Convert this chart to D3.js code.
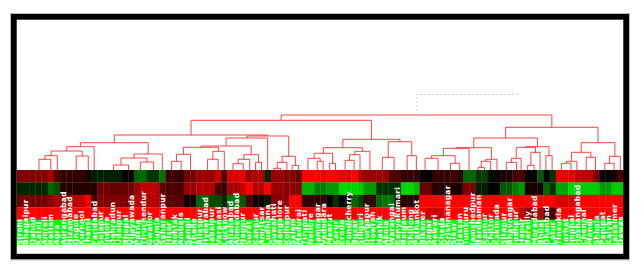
<!DOCTYPE html>
<html><head><meta charset="utf-8">
<script src="https://cdn.jsdelivr.net/npm/d3@7"></script>
<style>html,body{margin:0;padding:0;background:#fff}svg{display:block}</style>
</head><body><div id="chart"></div>
<script>
const labels=["Sirohi","Bhagalpur","Dahod","Katni","Amreli","Ratlam","Agra","Aurangabad","Nizamabad","Ongole","Kurnool","Jhansi","Faridabad","Solapur","Indore","Dehradun","Udaipur","Bhopal","Vijayawada","Patna","Tiruchendur","Gwalior","Gumla","Saharanpur","Hisar","Rohtak","Ambala","Sangli","Thane","Bilaspur","Hyderabad","Jabalpur","Varanasi","Lucknow","Allahabad","Ahmedabad","Nagpur","Surat","Kanpur","Amritsar","Ludhiana","Guwahati","Bangalore","Kolhapur","Salem","Madurai","Tirupati","Nellore","Jamnagar","Vadodara","Meerut","Karur","Erode","Pondicherry","Buxar","Siliguri","Durgapur","Howrah","Nashik","Akola","Warangal","Kanyakumari","Belgaum","Shillong","Pathankot","Bikaner","Sagar","Rewari","Kheda","Krishnanagar","Sikar","Hassan","Tumkuru","Jamshedpur","Bardhaman","Kannur","Chittor","Kakinada","Sitapur","Bhavnagar","Jodhpur","Hapur","Bareilly","Moradabad","Bhilai","Dhanbad","Latur","Tinsukia","Jorhat","Imphal","Hoshangabad","Chennai","Mandi","Shimla","Panipat","Kalyan","Jaisalmer","Dewas"];

const row1=[.5,.5,.5,.5,.5,.65,.3,.2,.2,.2,.2,.12,-.12,-.12,-.12,-.12,-.12,0,0,-.4,-.4,-.2,-.2,-.45,.25,.25,.18,.45,.45,.6,.6,.6,.8,.3,.85,.85,.9,.6,.7,.65,-.15,.6,.6,.5,.5,.4,1,1,1,.9,1,1,.9,.9,1,.7,.6,.6,.6,.6,.3,.3,.2,.2,.2,0,0,.2,.2,.2,.25,.18,-.4,-.4,-.2,-.25,-.05,-.05,.12,.12,.25,.3,0,.03,-.35,0,-.2,.9,.9,.9,.75,.75,.75,.5,0,0,.08,.3];
const row2=[-.15,-.15,-.15,-.15,-.15,-.4,-.3,.15,.15,.15,.15,.15,.1,.45,.45,.4,.4,.4,.45,.6,.75,.75,.75,.35,.3,.3,.3,.6,.6,.7,.7,.7,.3,.2,.65,.65,.8,1,.7,.7,1,.6,.6,.55,.55,.55,-.7,-.7,-.5,-.5,-.6,-.6,-.85,-.85,-.85,-.8,-.6,-.6,-.2,-.2,-.18,-.18,-.85,-.85,-.75,.4,.4,.15,.15,.15,.1,.1,.5,.5,-.12,-.12,-.02,-.02,-.35,-.35,-.5,-.6,.08,.08,.08,-.4,-.2,-.65,-.65,-.85,-.85,-.8,-.8,-.8,-.6,-.6,-.8,-.8];
const row3=[.45,.45,.45,.45,.45,.55,.65,.55,.55,.75,.75,1,.25,.5,.5,.5,.5,.5,.5,.7,.7,.7,.7,.55,.35,.35,.35,.05,.05,-.4,-.4,-.3,-.3,-.15,-.45,-.45,-.35,.3,.05,.05,-.1,.55,.55,.55,1,1,.2,.2,.2,.2,0,-.2,.02,.02,-.4,-.25,.2,.2,-.4,-.45,-.45,.15,.15,.15,.15,1,1,1,1,1,1,1,1,1,1,1,1,1,1,1,1,1,1,1,1,1,1,.85,.85,.85,.85,1,1,1,1,1,1,1];
const row4=[1,1,1,1,1,1,1,1,1,1,1,1,1,1,1,1,1,1,1,1,1,1,1,1,1,1,1,1,1,1,1,1,1,1,1,1,1,1,1,.9,.9,1,1,1,1,1,.95,.95,.95,.95,.95,.95,.95,.95,.95,.95,1,1,1,1,1,1,1,1,1,1,.8,.8,.8,1,1,1,1,1,1,1,1,1,1,1,1,.75,.55,.55,.7,.25,.25,1,1,1,1,1,1,1,1,1,1,1];
const row5=labels.map(()=>-1);
const rows=[row1,row2,row3,row4,row5];
const rowSpans=[1,1,1,1,2];

// merge tree: [distance, left, right]; a bare number is a leaf position in column units
const tree=[55,
 [49.7,
  [35,
   [27.3,
    [23.3,[19,[14.3,[10.7,3.6,5.5],6.55],[14,9.6,11.55]],12.5],
    [16,[12,[5,15.6,18.05],[8,19.95,22.1]],23.5]],
   [34,
    [32,
     [24,
      [22.7,[15.7,[8.7,25,26.55],28.05],[18.7,[10.7,30.8,32.5],33.5]],
      [15.3,[10.7,[6.3,34.9,36.55],37.6],[7.7,38.55,39.5]]],
     40.5],
    [13.7,[7.7,[1.7,41.5,42.6],43.6],[4.7,44.45,45.5]]]],
  [30.7,
   [22.3,
    [16.7,[11.7,47,[8.7,48.5,49.45]],[6.7,50.5,51.45]],
    [18.7,[15.3,[9.7,53,54.45],55.4],57]],
   [28.3,[12.7,59,60.9],[14.3,63,64.5]]]],
 [42.7,
  [32,
   [22.3,
    [21.7,[14.3,[11.7,65.9,68],[6.7,70,71.5]],73],
    [10.7,[8.7,[2.7,74.45,75.5],76.45],77.5]],
   [23.3,
    [22.7,[11.7,[7.7,79,80.65],81.4],[17.7,[4.7,82.45,83.5],84.45]],
    [14.3,85.4,86.4]]],
  [27.3,
   [17.7,[8.7,[6.7,87.9,89.45],90.4],[12.7,91.9,93.4]],
   [13.7,[6.7,94.9,96.4],97.4]]]];
const prunedBranch=[[64.5,55],[64.5,75.5],[81.1,75.5]];

const W=641,H=279;
const svg=d3.select("#chart").append("svg").attr("width",W).attr("height",H);
svg.append("rect").attr("width",W).attr("height",H).attr("fill","#fff");

const x=d3.scaleLinear().domain([0,labels.length]).range([16.7,624]);
const yD=d3.scaleLinear().domain([0,55]).range([170,115]);
const yR=d3.scaleLinear().domain([0,6]).range([170,244.6]);
const colour=d3.scaleLinear().domain([-1,0,1]).range(["#00ff00","#000000","#ff0000"]);

// heatmap
const starts=[0,...d3.cumsum(rowSpans)];
rows.forEach((vals,r)=>{
  svg.append("g").selectAll("rect").data(vals).join("rect")
    .attr("x",(d,i)=>x(i)).attr("y",yR(starts[r]))
    .attr("width",x(1)-x(0)+.3).attr("height",yR(rowSpans[r])-yR(0)+.2)
    .attr("fill",d=>colour(d));
});

// dendrogram
const segs=[];
function walk(n){
  if(typeof n==="number") return {p:n,h:0};
  const a=walk(n[1]),b=walk(n[2]);
  segs.push({a,b,h:n[0]});
  return {p:(a.p+b.p)/2,h:n[0]};
}
walk(tree);
const g=svg.append("g").attr("fill","none").attr("stroke","#ff1010");
g.selectAll("path").data(segs).join("path")
  .attr("stroke-width",1).attr("stroke-opacity",.78)
  .attr("d",s=>{
    const p=d3.path();
    p.moveTo(x(s.a.p),yD(s.a.h));p.lineTo(x(s.a.p),yD(s.h));
    p.lineTo(x(s.b.p),yD(s.h));p.lineTo(x(s.b.p),yD(s.b.h));
    return p.toString();
  });
svg.append("path").attr("fill","none").attr("stroke","#d6d6d6").attr("stroke-dasharray","2 2")
  .attr("d",d3.line().x(d=>x(d[0])).y(d=>yD(d[1]))(prunedBranch));

// labels
svg.append("g").selectAll("text").data(labels).join("text")
  .attr("transform",(d,i)=>`translate(${x(i+.5)+2.4},245) rotate(-90)`)
  .attr("font-family","'DejaVu Sans',sans-serif").attr("font-weight","bold")
  .attr("font-size",7.4).attr("letter-spacing",.3).attr("fill","#fff").text(d=>d);

// frame
svg.append("rect").attr("x",13.85).attr("y",16.85).attr("width",612.3).attr("height",239.8)
  .attr("fill","none").attr("stroke","#000").attr("stroke-width",5.7);
svg.append("rect").attr("x",10.5).attr("y",13.5).attr("width",619).attr("height",246.5)
  .attr("fill","none").attr("stroke","#bbb").attr("stroke-width",1);
</script></body></html>
